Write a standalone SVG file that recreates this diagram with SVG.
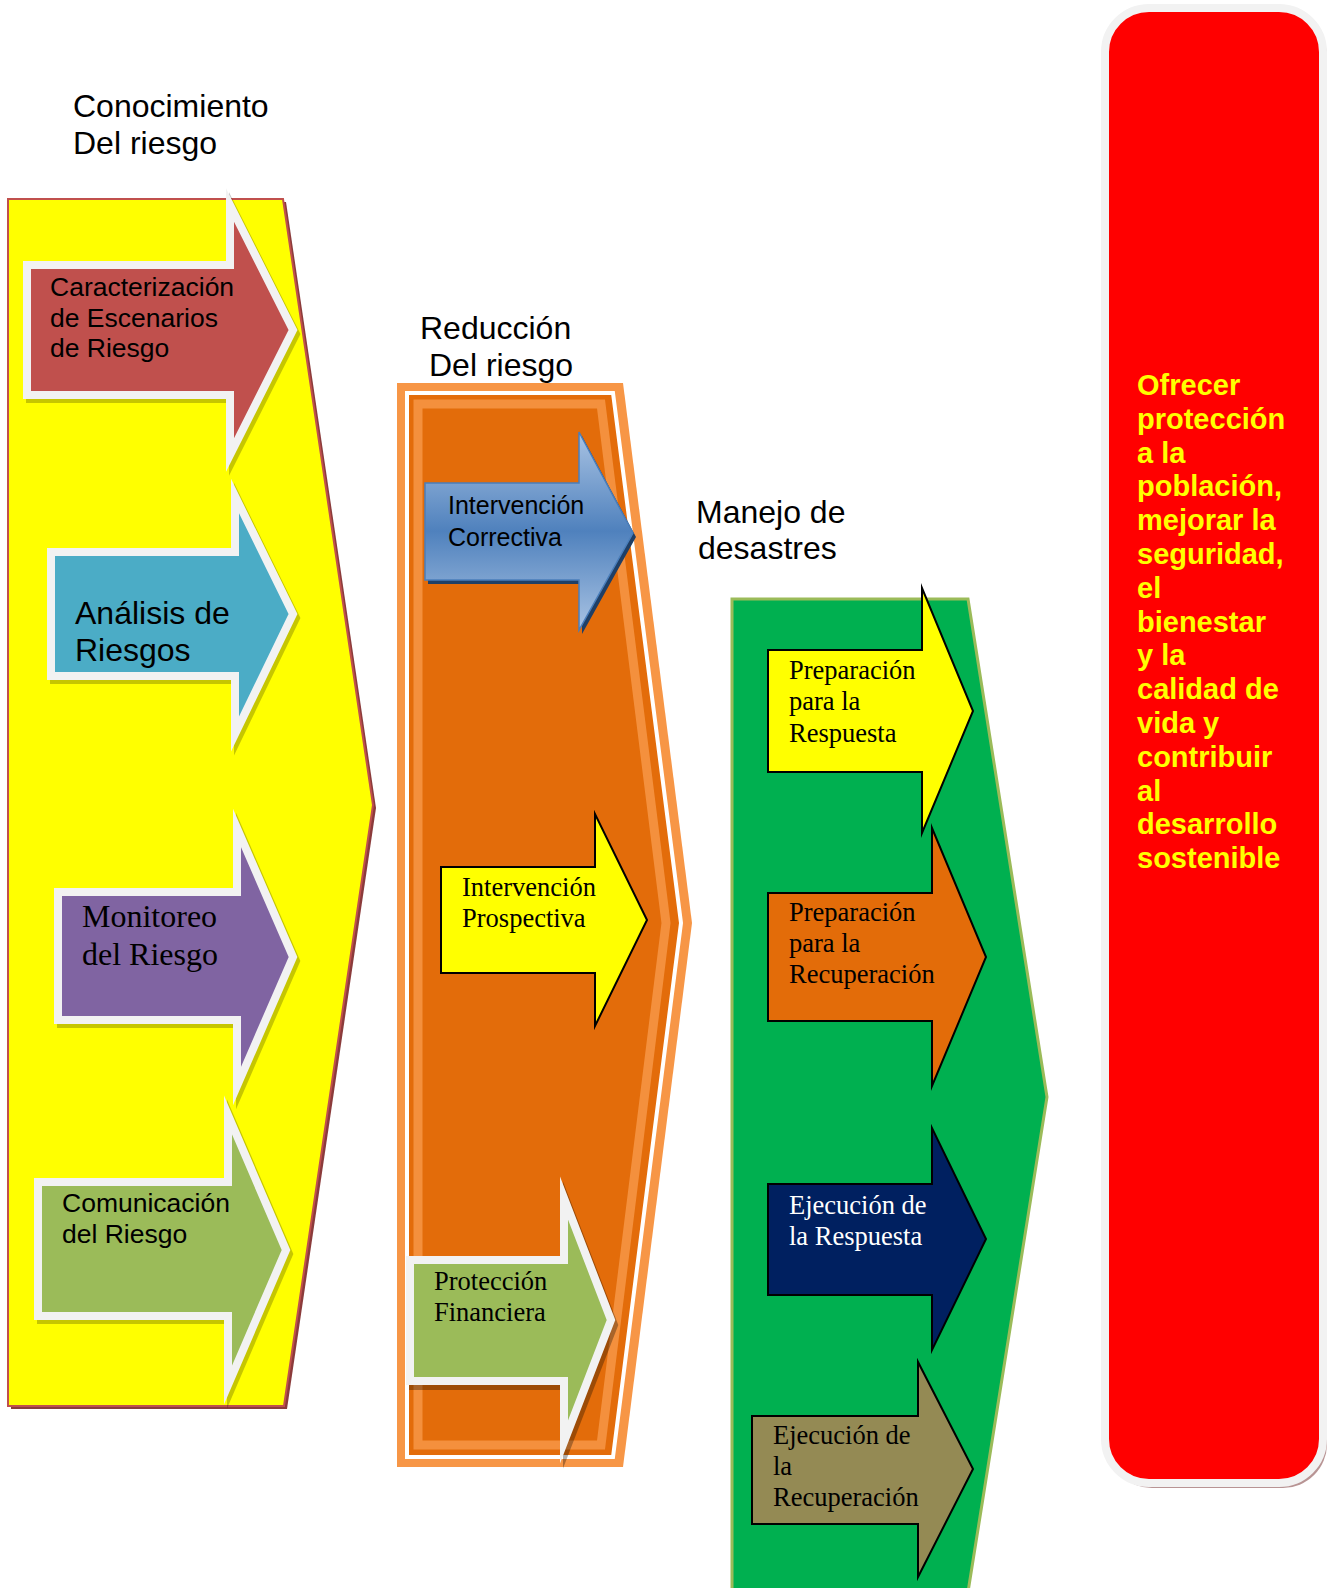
<svg xmlns="http://www.w3.org/2000/svg" width="1332" height="1588" viewBox="0 0 1332 1588">
<style>
.sans{font-family:"Liberation Sans",Arial,sans-serif}
.serif{font-family:"Liberation Serif","Times New Roman",serif}
.title{font-size:32px;fill:#000}
.wa{stroke:#f2f2f2;stroke-width:8;stroke-miterlimit:10;stroke-linejoin:miter}
.wsh{fill:#000;stroke:#000;stroke-width:8;stroke-miterlimit:10;opacity:.22}
.ba{stroke:#000;stroke-width:2;stroke-linejoin:miter;stroke-miterlimit:10}
.t26{font-size:26.5px}
.goal{font-family:"Liberation Sans",Arial,sans-serif;font-weight:bold;font-size:29px;fill:#ffff00}
</style>
<defs>
<linearGradient id="blueGrad" x1="0" y1="0" x2="0" y2="1">
<stop offset="0" stop-color="#a9c3e3"/>
<stop offset="0.5" stop-color="#4f81bd"/>
<stop offset="1" stop-color="#a9c3e3"/>
</linearGradient>
</defs>
<rect width="1332" height="1588" fill="#fff"/>

<g id="titles">
<text class="sans title" x="73" y="117">Conocimiento</text>
<text class="sans title" x="73" y="154">Del riesgo</text>
<text class="sans title" x="420" y="339">Reducción</text>
<text class="sans title" x="429" y="376">Del riesgo</text>
<text class="sans title" x="696" y="523">Manejo de</text>
<text class="sans title" x="698" y="559">desastres</text>
</g>

<g id="conocimiento">
<polygon points="11,202 286,202 376,808 287,1409 11,1409" fill="#8b3b3b"/>
<polygon points="8,199 283,199 373,805 284,1406 8,1406" fill="#ffff00" stroke="#c0504d" stroke-width="2"/>
</g>

<g id="caracterizacion">
<path class="wsh" d="M30,269 H233 V209 L296,334 L233,459 V399 H30 Z"/>
<path class="wa" fill="#c0504d" d="M27,265 H230 V205 L293,330 L230,455 V395 H27 Z"/>
<text class="sans" font-size="26.5" x="50" y="296">Caracterización</text>
<text class="sans" font-size="26.5" x="50" y="327">de Escenarios</text>
<text class="sans" font-size="26.5" x="50" y="357">de Riesgo</text>
</g>

<g id="analisis">
<path class="wsh" d="M54,556 H238 V500 L296,618 L238,738 V680 H54 Z"/>
<path class="wa" fill="#4bacc6" d="M51,552 H235 V496 L293,614 L235,734 V676 H51 Z"/>
<text class="sans" font-size="32" x="75" y="624">Análisis de</text>
<text class="sans" font-size="32" x="75" y="661">Riesgos</text>
</g>

<g id="monitoreo">
<path class="wsh" d="M61,896 H240 V832 L296,961 L240,1090 V1024 H61 Z"/>
<path class="wa" fill="#8064a2" d="M58,892 H237 V828 L293,957 L237,1086 V1020 H58 Z"/>
<text class="serif" font-size="32" x="82" y="927">Monitoreo</text>
<text class="serif" font-size="32" x="82" y="965">del Riesgo</text>
</g>

<g id="comunicacion">
<path class="wsh" d="M41,1186 H231 V1119 L289,1254 L231,1389 V1320 H41 Z"/>
<path class="wa" fill="#9bbb59" d="M38,1182 H228 V1115 L286,1250 L228,1385 V1316 H38 Z"/>
<text class="sans" font-size="26.5" x="62" y="1212">Comunicación</text>
<text class="sans" font-size="26.5" x="62" y="1243">del Riesgo</text>
</g>

<g id="reduccion">
<polygon points="397,383 623,383 692,923 623,1467 397,1467" fill="#f79646"/>
<polygon points="407,393 613,393 681,923 613,1457 407,1457" fill="#e36c0a" stroke="#fff" stroke-width="4"/>
<polygon points="418,404 601,404 666,923 601,1445 418,1445" fill="none" stroke="#f79646" stroke-width="9" stroke-opacity="0.85"/>
</g>

<g id="correctiva">
<path fill="#1f3f66" d="M428,487 H582 V436 L636,537 L582,634 V584 H428 Z"/>
<path fill="url(#blueGrad)" stroke="#4a7ebb" stroke-width="1.5" d="M425,483 H579 V432 L633,533 L579,630 V580 H425 Z"/>
<text class="sans" font-size="25" fill="#000" x="448" y="514">Intervención</text>
<text class="sans" font-size="25" fill="#000" x="448" y="546">Correctiva</text>
</g>

<g id="prospectiva">
<path class="ba" fill="#ffff00" d="M441,867 H595 V814 L647,920 L595,1026 V973 H441 Z"/>
<text class="serif t26" x="462" y="896">Intervención</text>
<text class="serif t26" x="462" y="927">Prospectiva</text>
</g>

<g id="proteccion">
<path class="wsh" style="opacity:.3" d="M413,1265 H567 V1203 L614,1325 L567,1447 V1386 H413 Z"/>
<path class="wa" fill="#9bbb59" d="M410,1260 H564 V1198 L611,1320 L564,1442 V1381 H410 Z"/>
<text class="serif t26" x="434" y="1290">Protección</text>
<text class="serif t26" x="434" y="1321">Financiera</text>
</g>

<g id="manejo">
<polygon points="732,599 968,599 1047,1097 968,1592 732,1592" fill="#00b050" stroke="#9bbb59" stroke-width="3"/>
</g>

<g id="prep-respuesta">
<path class="ba" fill="#ffff00" d="M768,650 H922 V588 L973,711 L922,833 V772 H768 Z"/>
<text class="serif t26" x="789" y="679">Preparación</text>
<text class="serif t26" x="789" y="710">para la</text>
<text class="serif t26" x="789" y="742">Respuesta</text>
</g>

<g id="prep-recuperacion">
<path class="ba" fill="#e36c09" d="M768,893 H932 V828 L986,957 L932,1086 V1021 H768 Z"/>
<text class="serif t26" x="789" y="921">Preparación</text>
<text class="serif t26" x="789" y="952">para la</text>
<text class="serif t26" x="789" y="983">Recuperación</text>
</g>

<g id="ejec-respuesta">
<path class="ba" fill="#002060" d="M768,1184 H932 V1128 L986,1239 L932,1350 V1295 H768 Z"/>
<text class="serif t26" fill="#fff" x="789" y="1214">Ejecución de</text>
<text class="serif t26" fill="#fff" x="789" y="1245">la Respuesta</text>
</g>

<g id="ejec-recuperacion">
<path class="ba" fill="#948a54" d="M752,1416 H918 V1362 L973,1469 L918,1577 V1524 H752 Z"/>
<text class="serif t26" x="773" y="1444">Ejecución de</text>
<text class="serif t26" x="773" y="1475">la</text>
<text class="serif t26" x="773" y="1506">Recuperación</text>
</g>

<g id="objetivo">
<rect x="1108" y="13" width="219" height="1475" rx="44" fill="#b89494"/>
<rect x="1105" y="8" width="218" height="1475" rx="44" fill="#ff0000" stroke="#f2f2f2" stroke-width="8"/>
<text class="goal" x="1137" y="395">Ofrecer</text>
<text class="goal" x="1137" y="429">protección</text>
<text class="goal" x="1137" y="463">a la</text>
<text class="goal" x="1137" y="496">población,</text>
<text class="goal" x="1137" y="530">mejorar la</text>
<text class="goal" x="1137" y="564">seguridad,</text>
<text class="goal" x="1137" y="598">el</text>
<text class="goal" x="1137" y="632">bienestar</text>
<text class="goal" x="1137" y="665">y la</text>
<text class="goal" x="1137" y="699">calidad de</text>
<text class="goal" x="1137" y="733">vida y</text>
<text class="goal" x="1137" y="767">contribuir</text>
<text class="goal" x="1137" y="801">al</text>
<text class="goal" x="1137" y="834">desarrollo</text>
<text class="goal" x="1137" y="868">sostenible</text>
</g>
</svg>
